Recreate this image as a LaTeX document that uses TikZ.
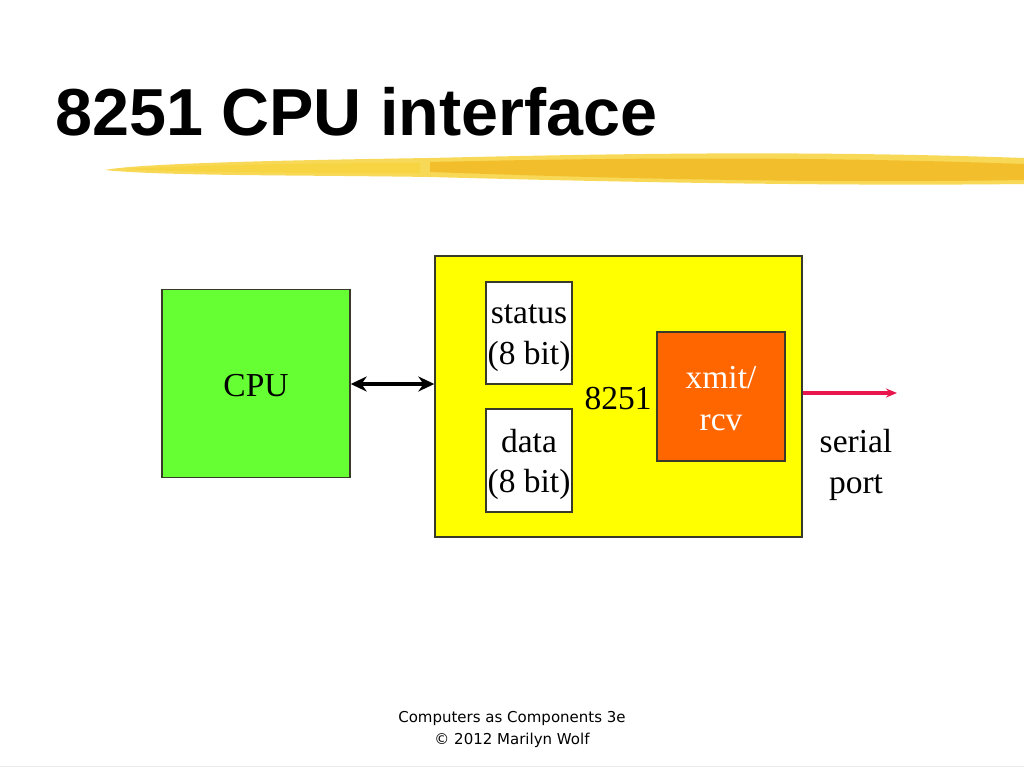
\documentclass[tikz,border=0pt]{standalone}
\usepackage{fontspec}
\setmainfont{Liberation Serif}
\newfontfamily\titlefont{Liberation Sans}
\newfontfamily\footfont{DejaVu Sans}
\usetikzlibrary{arrows.meta,calc}
\definecolor{cpugreen}{HTML}{66FF33}
\definecolor{chipyellow}{HTML}{FFFF00}
\definecolor{xorange}{HTML}{FF6600}
\definecolor{edge}{HTML}{3A3A2A}
\definecolor{portred}{HTML}{E8164C}
\definecolor{brushA}{HTML}{F7D23A}
\definecolor{brushB}{HTML}{F2B821}
\tikzset{
  blockbox/.style={draw=edge, line width=1.4pt, inner sep=0pt},
  lbl/.style={font=\fontsize{33.5}{40}\selectfont, anchor=base, inner sep=0pt},
}
\begin{document}
\begin{tikzpicture}[x=1pt,y=-1pt]
\useasboundingbox (0,0) rectangle (1024,768);
% title
\node[font=\titlefont\bfseries\fontsize{66.5}{70}\selectfont, anchor=base west, inner sep=0pt] (title) at (55,135) {8251 CPU interface};
% brush stroke
\fill[brushA, opacity=0.85] (105,170) .. controls (140,163) and (300,160) .. (430,158)
  .. controls (600,154) and (800,150) .. (1024,158) -- (1024,184)
  .. controls (850,186) and (650,183) .. (430,177)
  .. controls (300,175) and (160,176) .. (105,170) -- cycle;
\fill[brushB, opacity=0.8] (430,162) .. controls (600,158) and (800,156) .. (1024,164) -- (1024,180)
  .. controls (850,183) and (650,180) .. (430,172) -- cycle;
\fill[brushA, opacity=0.7] (120,169) .. controls (200,165) and (300,163) .. (420,163)
  -- (420,173) .. controls (300,173) and (200,173) .. (120,169) -- cycle;
% blocks
\node[blockbox, fill=cpugreen, minimum width=188pt, minimum height=188pt] (cpu) at (256,383.5) {};
\node[blockbox, fill=chipyellow, minimum width=367pt, minimum height=281pt] (chip) at (618.5,396.5) {};
\node[blockbox, fill=white, minimum width=86pt, minimum height=102pt] (status) at (529,333) {};
\node[blockbox, fill=white, minimum width=86pt, minimum height=103pt] (data) at (529,460.5) {};
\node[blockbox, fill=xorange, minimum width=128pt, minimum height=129pt] (xmit) at (721,396.5) {};
% texts
\node[lbl] (cputxt) at (256,396) {CPU};
\node[lbl] (st1) at (529,323) {status};
\node[lbl] (st2) at (529,364) {(8 bit)};
\node[lbl] (da1) at (529,452) {data};
\node[lbl] (da2) at (529,492) {(8 bit)};
\node[lbl] (chiptxt) at (618,409) {8251};
\node[lbl, text=white] (xm1) at (721,388) {xmit/};
\node[lbl, text=white] (xm2) at (721,430) {rcv};
\node[lbl] (sp1) at (856,452) {serial};
\node[lbl] (sp2) at (856,493) {port};
% connectors
\coordinate (busL) at (350,384);
\draw[line width=4.5pt, {Stealth[length=16pt,width=15pt]}-{Stealth[length=16pt,width=15pt]}]
  (cpu.east |- busL) -- (chip.west |- busL);
\coordinate (portend) at (897,393);
\draw[portred, line width=3.2pt, -{Stealth[length=11pt,width=9pt]}] (chip.east |- portend) -- (portend);
% footer
\node[font=\footfont\fontsize{15}{22}\selectfont, align=center, anchor=base, inner sep=0pt] (foot) at (512,744) {Computers as Components 3e\\© 2012 Marilyn Wolf};
\coordinate (bl) at (0,766.5);
\coordinate (br) at (1024,766.5);
\draw[black!8, line width=1.5pt] (bl) -- (br);
\end{tikzpicture}
\end{document}
